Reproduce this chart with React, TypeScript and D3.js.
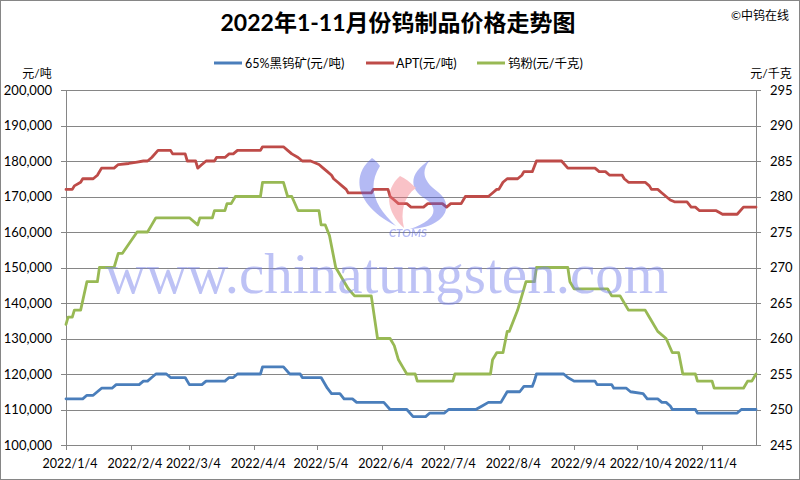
import React from "react";
import * as d3 from "d3";

const title = "2022年1-11月份钨制品价格走势图";
const copyright = "©中钨在线";
const seriesNames = ["65%黑钨矿(元/吨)", "APT(元/吨)", "钨粉(元/千克)"];
const seriesColors = ["#4a7ebb", "#be4b48", "#98b954"];
const leftUnit = "元/吨";
const rightUnit = "元/千克";
const xTickLabels = ["2022/1/4", "2022/2/4", "2022/3/4", "2022/4/4", "2022/5/4", "2022/6/4", "2022/7/4", "2022/8/4", "2022/9/4", "2022/10/4", "2022/11/4"];
const leftTicks = [100000, 110000, 120000, 130000, 140000, 150000, 160000, 170000, 180000, 190000, 200000];
const rightTicks = [245, 250, 255, 260, 265, 270, 275, 280, 285, 290, 295];
const xDomain = ["2022-01-04", "2022-11-30"];

const concentrateDates = ["2022-01-04","2022-01-12","2022-01-14","2022-01-17","2022-01-19","2022-01-21","2022-01-26","2022-01-28","2022-02-08","2022-02-10","2022-02-12","2022-02-14","2022-02-16","2022-02-21","2022-02-23","2022-03-02","2022-03-04","2022-03-10","2022-03-12","2022-03-21","2022-03-23","2022-03-25","2022-03-27","2022-04-07","2022-04-08","2022-04-18","2022-04-21","2022-04-26","2022-04-27","2022-05-06","2022-05-09","2022-05-11","2022-05-15","2022-05-17","2022-05-21","2022-05-23","2022-06-05","2022-06-08","2022-06-16","2022-06-19","2022-06-25","2022-06-27","2022-07-04","2022-07-06","2022-07-19","2022-07-22","2022-07-25","2022-07-31","2022-08-03","2022-08-09","2022-08-11","2022-08-15","2022-08-16","2022-08-17","2022-08-30","2022-09-01","2022-09-04","2022-09-14","2022-09-15","2022-09-22","2022-09-23","2022-09-29","2022-10-01","2022-10-07","2022-10-09","2022-10-14","2022-10-16","2022-10-18","2022-10-20","2022-10-21","2022-11-01","2022-11-02","2022-11-21","2022-11-23","2022-11-30"];
const concentrateValues = [113000,113000,114000,114000,115000,116000,116000,117000,117000,118000,118000,119000,120000,120000,119000,119000,117000,117000,118000,118000,119000,119000,120000,120000,122000,122000,120000,120000,119000,119000,116000,114500,114500,113000,113000,112000,112000,110000,110000,108000,108000,109000,109000,110000,110000,111000,112000,112000,115000,115000,116500,116500,118000,120000,120000,119000,118000,118000,117000,117000,116000,116000,115000,114500,113000,113000,112000,112000,111000,110000,110000,109000,109000,110000,110000];

const aptDates = ["2022-01-04","2022-01-07","2022-01-08","2022-01-11","2022-01-12","2022-01-17","2022-01-19","2022-01-21","2022-01-27","2022-01-29","2022-02-03","2022-02-07","2022-02-10","2022-02-12","2022-02-14","2022-02-17","2022-02-23","2022-02-24","2022-03-02","2022-03-03","2022-03-07","2022-03-08","2022-03-10","2022-03-12","2022-03-16","2022-03-17","2022-03-21","2022-03-23","2022-03-25","2022-03-27","2022-04-07","2022-04-08","2022-04-18","2022-04-20","2022-04-22","2022-04-25","2022-04-27","2022-05-01","2022-05-03","2022-05-05","2022-05-07","2022-05-09","2022-05-11","2022-05-12","2022-05-14","2022-05-16","2022-05-18","2022-05-19","2022-05-30","2022-05-31","2022-06-07","2022-06-08","2022-06-10","2022-06-12","2022-06-16","2022-06-18","2022-06-24","2022-06-26","2022-07-03","2022-07-05","2022-07-07","2022-07-12","2022-07-14","2022-07-25","2022-07-27","2022-07-29","2022-07-30","2022-08-01","2022-08-03","2022-08-08","2022-08-10","2022-08-11","2022-08-15","2022-08-17","2022-08-29","2022-09-01","2022-09-14","2022-09-16","2022-09-19","2022-09-21","2022-09-27","2022-09-28","2022-09-30","2022-10-08","2022-10-10","2022-10-11","2022-10-14","2022-10-16","2022-10-18","2022-10-20","2022-10-22","2022-10-28","2022-10-30","2022-11-01","2022-11-03","2022-11-11","2022-11-14","2022-11-21","2022-11-24","2022-11-30"];
const aptValues = [172000,172000,173000,174000,175000,175000,176000,178000,178000,179000,179300,179700,180000,180000,181000,183000,183000,182000,182000,180000,180000,178000,179000,180000,180000,181000,181000,182000,182000,183000,183000,184000,184000,183000,182000,181000,180000,180000,179500,179000,178000,177000,176000,175000,174000,173000,172000,171000,171000,172000,172000,170000,169000,168000,168000,167000,167000,168000,168000,167000,168000,168000,170000,170000,171000,172000,172000,174000,175000,175000,176000,177000,177000,180000,180000,178000,178000,177000,177000,176000,176000,175000,174000,174000,173000,172000,172000,171000,170000,169000,168500,168500,167000,167000,166000,166000,165000,165000,167000,167000];

const powderDates = ["2022-01-04","2022-01-05","2022-01-07","2022-01-08","2022-01-11","2022-01-14","2022-01-19","2022-01-20","2022-01-27","2022-01-29","2022-01-31","2022-02-07","2022-02-12","2022-02-14","2022-02-16","2022-03-04","2022-03-08","2022-03-09","2022-03-15","2022-03-16","2022-03-21","2022-03-22","2022-03-24","2022-03-26","2022-04-07","2022-04-08","2022-04-18","2022-04-20","2022-04-22","2022-04-25","2022-05-05","2022-05-06","2022-05-08","2022-05-10","2022-05-13","2022-05-17","2022-05-19","2022-05-22","2022-05-30","2022-06-02","2022-06-08","2022-06-10","2022-06-12","2022-06-14","2022-06-16","2022-06-20","2022-06-21","2022-07-08","2022-07-09","2022-07-26","2022-07-27","2022-07-29","2022-08-01","2022-08-03","2022-08-04","2022-08-08","2022-08-11","2022-08-12","2022-08-16","2022-08-17","2022-09-01","2022-09-02","2022-09-04","2022-09-20","2022-09-22","2022-09-26","2022-09-30","2022-10-08","2022-10-10","2022-10-14","2022-10-18","2022-10-21","2022-10-24","2022-10-26","2022-11-01","2022-11-02","2022-11-09","2022-11-10","2022-11-24","2022-11-26","2022-11-28","2022-11-30"];
const powderValues = [262,263,263,264,264,268,268,270,270,272,272,275,275,276,277,277,276,277,277,278,278,279,279,280,280,282,282,280,280,278,278,276,276,274.5,270,268,267,266,266,260,260,259,257,256,255,255,254,254,255,255,257,258,258,261,261,264,267,268,268,270,270,268,267,267,266,266,264,264,263,261,260,258,258,255,255,254,254,253,253,254,254,255];

const W = 800;
const H = 480;
const M = { left: 66, right: 756, top: 90, bottom: 445 };
const FONT = "Lato, 'Noto Sans CJK SC', sans-serif";
const GRID = "#868686";

const parseDay = d3.timeParse("%Y-%m-%d");
const parseTick = d3.timeParse("%Y/%m/%d");

export default function App() {
  const x = d3.scaleTime().domain(xDomain.map((s) => parseDay(s) as Date)).range([M.left, M.right]);
  const yL = d3.scaleLinear().domain([100000, 200000]).range([M.bottom, M.top]);
  const yR = d3.scaleLinear().domain([245, 295]).range([M.bottom, M.top]);
  const fmt = d3.format(",");

  const lineL = d3.line<[Date, number]>().x((d) => x(d[0])).y((d) => yL(d[1]));
  const lineR = d3.line<[Date, number]>().x((d) => x(d[0])).y((d) => yR(d[1]));
  const zip = (ds: string[], vs: number[]) => ds.map((s, i) => [parseDay(s) as Date, vs[i]] as [Date, number]);

  const paths = [
    lineL(zip(concentrateDates, concentrateValues)),
    lineL(zip(aptDates, aptValues)),
    lineR(zip(powderDates, powderValues)),
  ];

  const legendItems = [
    { lx: 214, tx: 245 },
    { lx: 366, tx: 396 },
    { lx: 477, tx: 508 },
  ];

  return (
    <svg width={W} height={H} style={{ position: "absolute", left: 0, top: 0, background: "#fff" }} fontFamily={FONT}>
      <defs>
        <filter id="glow" x="-5%" y="-20%" width="110%" height="140%">
          <feGaussianBlur stdDeviation="0.6" />
        </filter>
      </defs>
      <rect x={0.5} y={0.5} width={W - 1} height={H - 1} fill="#fff" stroke={GRID} />
      <text x={398} y={31} textAnchor="middle" fontSize={23} fontWeight="bold" fill="#000">{title}</text>
      <text x={789} y={20} textAnchor="end" fontSize={12} fill="#000">{copyright}</text>

      {seriesNames.map((n, i) => (
        <g key={n}>
          <line x1={legendItems[i].lx} x2={legendItems[i].lx + 28} y1={63} y2={63} stroke={seriesColors[i]} strokeWidth={3} />
          <text x={legendItems[i].tx} y={67.5} fontSize={12.5} fill="#000">{n}</text>
        </g>
      ))}

      <text x={37} y={78} textAnchor="middle" fontSize={12} fill="#000">{leftUnit}</text>
      <text x={771} y={78} textAnchor="middle" fontSize={12} fill="#000">{rightUnit}</text>

      {leftTicks.map((t) => (
        <g key={t}>
          <line x1={M.left} x2={M.right} y1={Math.round(yL(t)) + 0.5} y2={Math.round(yL(t)) + 0.5} stroke={GRID} strokeWidth={1} />
          <line x1={M.left - 5} x2={M.left} y1={Math.round(yL(t)) + 0.5} y2={Math.round(yL(t)) + 0.5} stroke={GRID} strokeWidth={1} />
          <text x={52} y={yL(t) + 4.5} textAnchor="end" fontSize={13} fill="#000">{fmt(t)}</text>
        </g>
      ))}
      {rightTicks.map((t) => (
        <g key={t}>
          <line x1={M.right} x2={M.right + 5} y1={Math.round(yR(t)) + 0.5} y2={Math.round(yR(t)) + 0.5} stroke={GRID} strokeWidth={1} />
          <text x={770} y={yR(t) + 4.5} textAnchor="start" fontSize={13} fill="#000">{t}</text>
        </g>
      ))}
      <line x1={M.left + 0.5} x2={M.left + 0.5} y1={M.top} y2={M.bottom} stroke={GRID} />
      <line x1={M.right + 0.5} x2={M.right + 0.5} y1={M.top} y2={M.bottom} stroke={GRID} />
      {xTickLabels.map((s) => {
        const px = x(parseTick(s) as Date);
        return (
          <g key={s}>
            <line x1={Math.round(px) + 0.5} x2={Math.round(px) + 0.5} y1={M.bottom} y2={M.bottom + 5} stroke={GRID} />
            <text x={px + 4} y={468} textAnchor="middle" fontSize={12.5} fill="#000">{s}</text>
          </g>
        );
      })}

      {paths.map((d, i) => (
        <path key={i} d={d || ""} fill="none" stroke={seriesColors[i]} strokeWidth={2.8} strokeLinejoin="round" strokeLinecap="round" />
      ))}

      <g opacity={0.42}>
        <path d="M372,158 C350,176 356,206 396,226 C376,208 366,188 380,166 C377,162 375,160 372,158 Z" fill="#4f5ce6" />
        <path d="M430,160 C410,172 408,188 424,198 C440,208 436,220 410,229 C444,228 456,206 438,192 C424,182 420,172 430,160 Z" fill="#4f5ce6" />
        <path d="M400,176 C384,190 386,212 404,228 C400,212 404,196 416,188 C410,182 405,178 400,176 Z" fill="#f2707c" />
        <text x={408} y={237} textAnchor="middle" fontSize={11.5} fontStyle="italic" fontWeight="bold" fill="#4f5ce6">CTOMS</text>
      </g>
      <text x={105} y={293} fontFamily="'Liberation Serif', 'DejaVu Serif', serif" fontSize={57} fill="#7d86ec" opacity={0.5} filter="url(#glow)">www.chinatungsten.com</text>
    </svg>
  );
}
